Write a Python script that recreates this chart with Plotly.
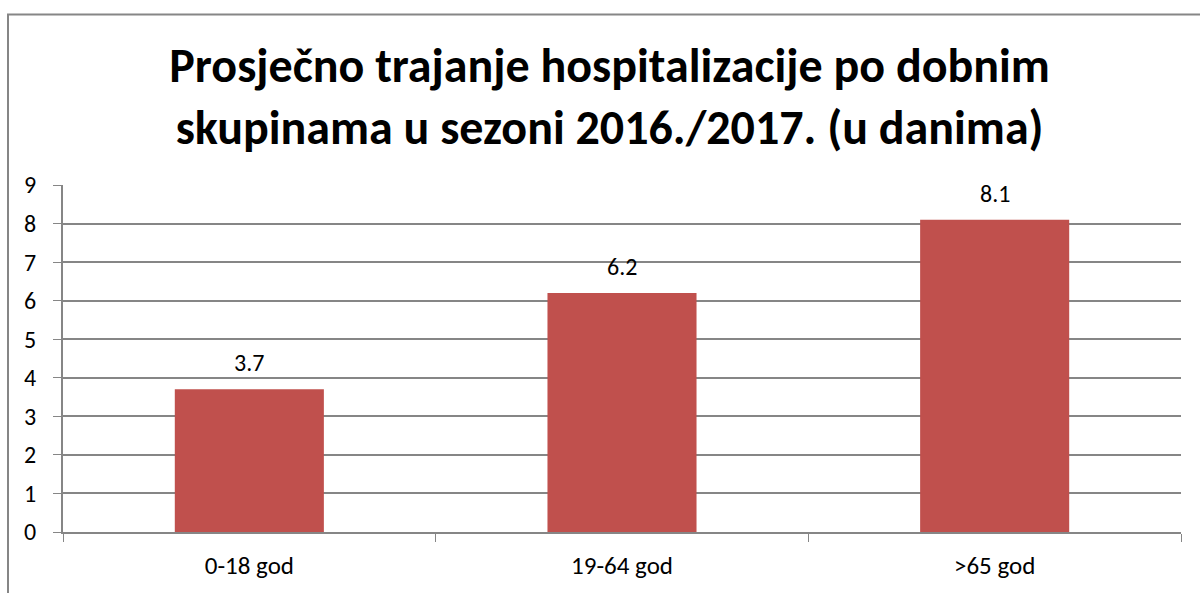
import plotly.graph_objects as go

categories = ["0-18 god", "19-64 god", ">65 god"]
values = [3.7, 6.2, 8.1]
labels = ["3.7", "6.2", "8.1"]
title_lines = ["Prosječno trajanje hospitalizacije po dobnim",
               "skupinama u sezoni 2016./2017. (u danima)"]

FONT = "Carlito, Lato, Open Sans, sans-serif"
GRID = "#868686"

fig = go.Figure(go.Bar(x=categories, y=values, marker=dict(color="#C0504D", line=dict(width=0)),
                       width=0.4, hoverinfo="skip"))

for c, v, t in zip(categories, values, labels):
    fig.add_annotation(x=c, y=v, text=t, showarrow=False, yanchor="bottom", yshift=10,
                       font=dict(family=FONT, size=24, color="#000"))

fig.update_layout(
    width=1200, height=593,
    margin=dict(l=63, r=19, t=185, b=58),
    paper_bgcolor="white", plot_bgcolor="white",
    showlegend=False,
    title=dict(text="<br>".join(title_lines), x=0.508, xanchor="center", y=0.862, yanchor="middle",
               font=dict(family=FONT, size=48, color="#000", weight="bold")),
    xaxis=dict(type="category", tickson="boundaries", ticks="outside", ticklen=8, tickcolor=GRID,
               showline=True, linecolor=GRID, linewidth=2, showgrid=False, ticklabelstandoff=10,
               tickfont=dict(family=FONT, size=25, color="#000")),
    yaxis=dict(range=[0, 9], dtick=1, ticks="outside", ticklen=8, tickcolor=GRID,
               showline=True, linecolor=GRID, linewidth=2, showgrid=True, gridcolor=GRID, gridwidth=2,
               zeroline=False, ticklabelstandoff=12,
               tickfont=dict(family=FONT, size=24, color="#000")),
    shapes=[dict(type="rect", xref="paper", yref="paper", x0=-55/1118, x1=1.2, y0=-0.5, y1=(535-13)/350,
                 line=dict(color=GRID, width=2), fillcolor="rgba(0,0,0,0)", layer="below")],
)

fig.write_html("out.html", config={"displayModeBar": False},
               post_script="document.body.style.margin='0';document.body.style.overflow='hidden';")
